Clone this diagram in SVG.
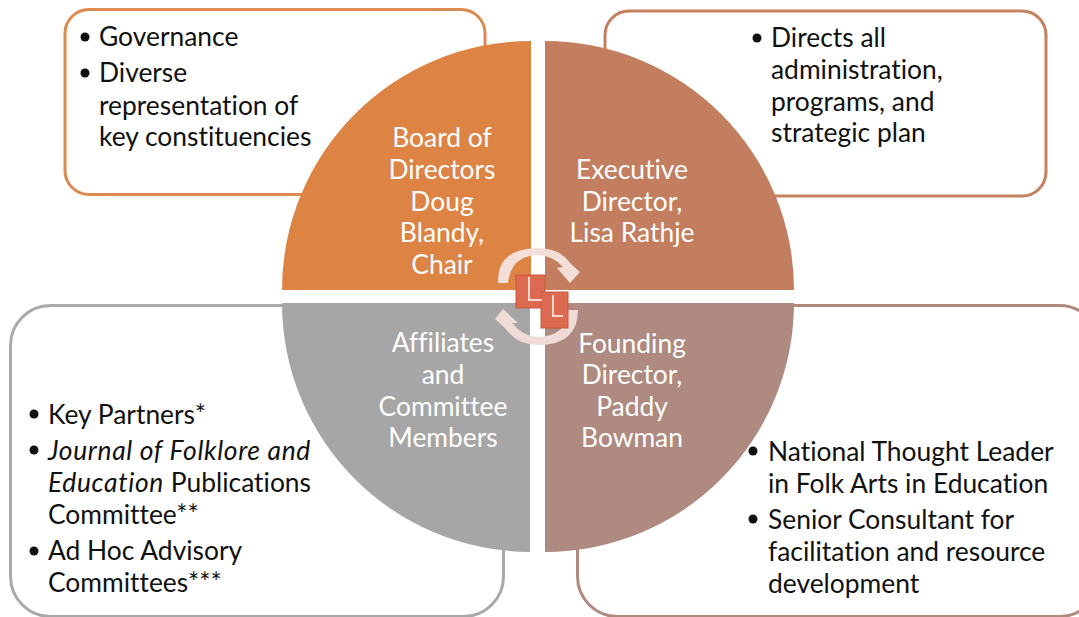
<svg xmlns="http://www.w3.org/2000/svg" width="1079" height="617" viewBox="0 0 1079 617">
<style>
text{font-family:Lato,Carlito,"Open Sans",sans-serif;font-size:26.400px;fill:#111;font-variant-ligatures:none}
.i{font-style:italic;letter-spacing:.67px}
.w{fill:#fff;text-anchor:middle}
.box{fill:#fff;stroke-width:3}
</style>
<rect width="1079" height="617" fill="#fff"/>
<g id="box-governance"><rect class="box" x="65" y="9.500" width="420" height="185" rx="24" stroke="#dd8a50"/>
<circle cx="85" cy="37" r="4.500" fill="#111"/><circle cx="85" cy="73" r="4.500" fill="#111"/>
<text x="99" y="46">Governance</text><text x="99" y="82">Diverse</text><text x="99" y="115">representation of</text><text x="99" y="146">key constituencies</text></g>
<g id="box-directs"><rect class="box" x="605" y="11" width="441" height="185" rx="24" stroke="#c4805f"/>
<circle cx="757" cy="38" r="4.500" fill="#111"/>
<text x="771" y="47">Directs all</text><text x="771" y="79">administration,</text><text x="771" y="111">programs, and</text><text x="771" y="142">strategic plan</text></g>
<g id="box-partners"><rect class="box" x="10.500" y="305.500" width="493" height="311" rx="40" stroke="#a9a9a9"/>
<circle cx="34" cy="414" r="4.500" fill="#111"/><circle cx="34" cy="450" r="4.500" fill="#111"/><circle cx="34" cy="551" r="4.500" fill="#111"/>
<text x="48" y="424">Key Partners*</text><text class="i" x="48" y="460">Journal of Folklore and</text><text x="48" y="492"><tspan class="i">Education</tspan> Publications</text><text x="48" y="524">Committee**</text><text x="48" y="560">Ad Hoc Advisory</text><text x="48" y="592">Committees***</text></g>
<g id="box-thought"><rect class="box" x="577.500" y="305.500" width="522" height="311" rx="40" stroke="#b0897f"/>
<circle cx="753" cy="451" r="4.500" fill="#111"/><circle cx="753" cy="519" r="4.500" fill="#111"/>
<text x="768" y="461">National Thought Leader</text><text x="768" y="493">in Folk Arts in Education</text><text x="768" y="529">Senior Consultant for</text><text x="768" y="561">facilitation and resource</text><text x="768" y="593">development</text></g>
<g id="quadrant-board"><path d="M531 290H282A249 249 0 0 1 531 41Z" fill="#dd8444"/>
<text class="w" x="442" y="147">Board of</text><text class="w" x="442" y="179">Directors</text><text class="w" x="442" y="211">Doug</text><text class="w" x="442" y="242">Blandy,</text><text class="w" x="442" y="274">Chair</text></g>
<g id="quadrant-executive"><path d="M545 290H794A249 249 0 0 0 545 41Z" fill="#c27e5f"/>
<text class="w" x="632" y="179">Executive</text><text class="w" x="632" y="211">Director,</text><text class="w" x="632" y="242">Lisa Rathje</text></g>
<g id="quadrant-affiliates"><path d="M530 303H282A249 249 0 0 0 530 552Z" fill="#a6a6a6"/>
<text class="w" x="443" y="352">Affiliates</text><text class="w" x="443" y="384">and</text><text class="w" x="443" y="416">Committee</text><text class="w" x="443" y="447">Members</text></g>
<g id="quadrant-founding"><path d="M545 303H794A249 249 0 0 1 545 552Z" fill="#ae8a80"/>
<text class="w" x="632" y="353">Founding</text><text class="w" x="632" y="384">Director,</text><text class="w" x="632" y="416">Paddy</text><text class="w" x="632" y="447">Bowman</text></g>
<g id="cycle-icon">
<path d="M498 283Q497 249 537 248Q560 248 571 264L580 272L570 283L557 268L563 267Q552 255 537 255Q511 256 508 283Z" fill="#f3dfd8"/>
<path d="M578 310Q578 345 538 345Q517 345 505 328L495 319L503 309L518 323L512 323Q522 336 538 337Q567 336 568 310Z" fill="#f0dcd6"/>
<rect x="516" y="275" width="29" height="33" fill="#dc6a50" stroke="#c9583f"/>
<rect x="541" y="292" width="27" height="36" fill="#dc6a50" stroke="#c9583f"/>
<path d="M529 277V300H542M553 295V316H563" fill="none" stroke="#f6d8cc" stroke-width="2"/>
</g>
</svg>
